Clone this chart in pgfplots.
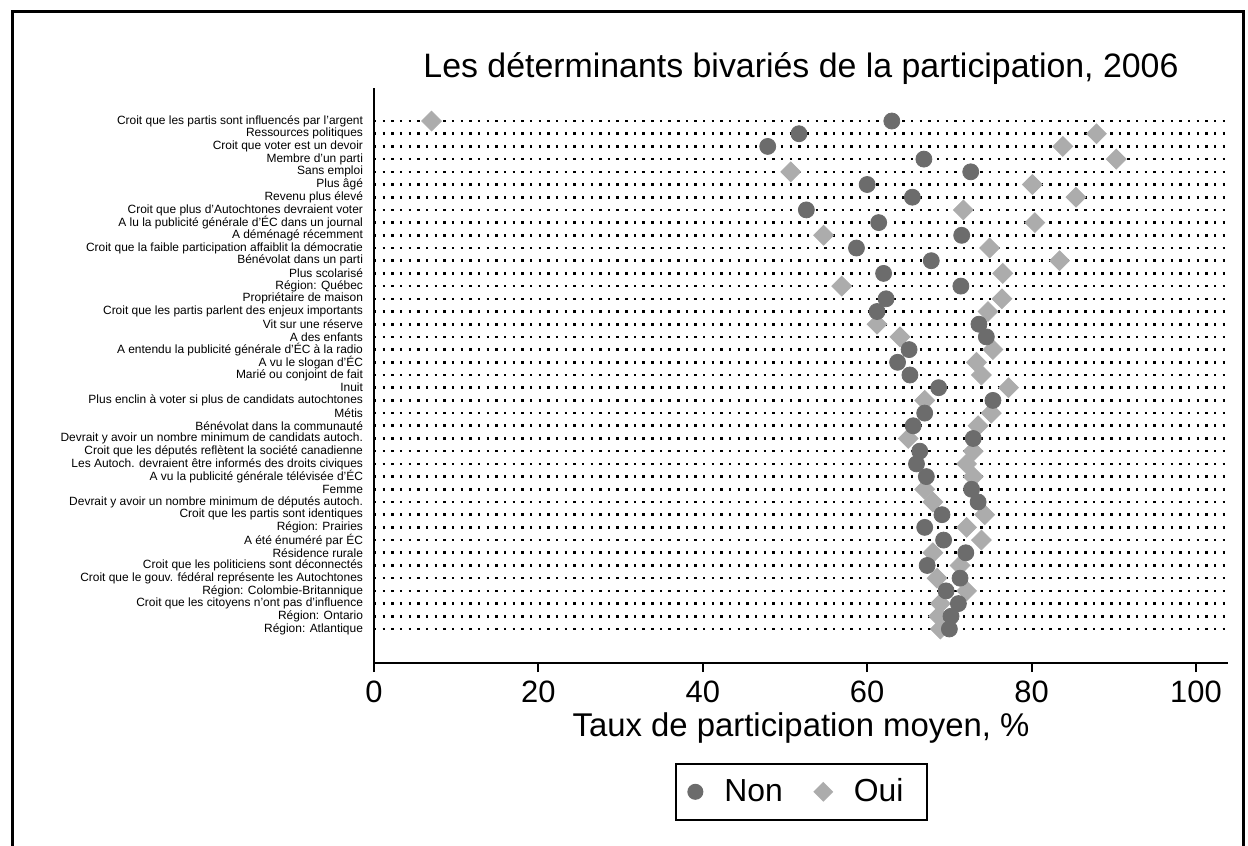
\documentclass[border=0pt]{standalone}
\usepackage{fontspec}
\setmainfont{Liberation Sans}
\usepackage{pgfplots}
\usepackage{pgfplotstable}
\pgfplotsset{compat=1.18}
\definecolor{nongray}{RGB}{108,108,108}
\definecolor{ouigray}{RGB}{172,172,172}

% i = row from the top; non / oui = mean turnout (%)
\pgfplotstableread{
i non oui
1 63.0 7.0
2 51.7 87.9
3 47.9 83.8
4 66.9 90.3
5 72.6 50.7
6 60.0 80.1
7 65.5 85.4
8 52.6 71.7
9 61.4 80.4
10 71.5 54.7
11 58.7 74.9
12 67.8 83.4
13 62.0 76.5
14 71.4 56.9
15 62.3 76.4
16 61.2 74.7
17 73.6 61.2
18 74.5 64.0
19 65.1 75.3
20 63.7 73.3
21 65.2 73.9
22 68.7 77.2
23 75.3 67.0
24 67.0 75.1
25 65.6 73.5
26 72.9 65.0
27 66.4 72.9
28 66.0 72.1
29 67.2 72.9
30 72.7 67.0
31 73.5 68.0
32 69.1 74.3
33 67.0 72.1
34 69.3 73.9
35 72.0 68.0
36 67.3 71.3
37 71.3 68.5
38 69.6 72.1
39 71.1 68.9
40 70.2 68.7
41 70.0 68.9
}\datatable

\begin{document}
\begin{tikzpicture}
\path[use as bounding box] (0bp,0bp) rectangle (624bp,423bp);
\draw[line width=1.5bp] (6bp,0bp) -- (6bp,417bp) -- (621.5bp,417bp) -- (621.5bp,0bp);
\begin{axis}[
  at={(187bp,91.5bp)}, anchor=south west,
  scale only axis, width=427bp, height=287.5bp,
  xmin=0, xmax=103.9, ymin=-1.6, ymax=43.68, y dir=reverse,
  axis lines*=left, axis line style={-, line width=1bp},
  xtick={0,20,...,100}, tick align=outside, major tick length=4.5bp,
  xtick style={line width=1bp, black},
  ytick={1,...,41}, ytick style={draw=none},
  yticklabels={
    Croit que les partis sont influencés par l'argent,
    Ressources politiques,
    Croit que voter est un devoir,
    Membre d'un parti,
    Sans emploi,
    Plus âgé,
    Revenu plus élevé,
    Croit que plus d'Autochtones devraient voter,
    A lu la publicité générale d'ÉC dans un journal,
    A déménagé récemment,
    Croit que la faible participation affaiblit la démocratie,
    Bénévolat dans un parti,
    Plus scolarisé,
    Région: Québec,
    Propriétaire de maison,
    Croit que les partis parlent des enjeux importants,
    Vit sur une réserve,
    A des enfants,
    A entendu la publicité générale d'ÉC à la radio,
    A vu le slogan d'ÉC,
    Marié ou conjoint de fait,
    Inuit,
    Plus enclin à voter si plus de candidats autochtones,
    Métis,
    Bénévolat dans la communauté,
    Devrait y avoir un nombre minimum de candidats autoch.,
    Croit que les députés reflètent la société canadienne,
    Les Autoch. devraient être informés des droits civiques,
    A vu la publicité générale télévisée d'ÉC,
    Femme,
    Devrait y avoir un nombre minimum de députés autoch.,
    Croit que les partis sont identiques,
    Région: Prairies,
    A été énuméré par ÉC,
    Résidence rurale,
    Croit que les politiciens sont déconnectés,
    Croit que le gouv. fédéral représente les Autochtones,
    Région: Colombie-Britannique,
    Croit que les citoyens n'ont pas d'influence,
    Région: Ontario,
    Région: Atlantique},
  yticklabel style={font=\fontsize{6.0}{6.4}\selectfont, xshift=2.5bp},
  xticklabel style={font=\fontsize{15.5}{17}\selectfont, yshift=-1bp},
  /pgf/number format/assume math mode=true,
  ymajorgrids,
  major grid style={black, line width=1.3bp, dash pattern=on 1.2bp off 3.13bp},
  xlabel={Taux de participation moyen, \%},
  xlabel style={font=\fontsize{16.5}{18}\selectfont, yshift=2bp},
  title={Les déterminants bivariés de la participation, 2006},
  title style={font=\fontsize{17}{20}\selectfont, at={(0.5,1.017)}, anchor=base, yshift=-5.5bp},
  legend columns=2,
  legend style={at={(0.501,-0.224)}, anchor=center, draw=black, line width=1bp,
    font=\fontsize{16}{18}\selectfont, inner xsep=6bp, inner ysep=5.5bp,
    /tikz/every odd column/.append style={column sep=9bp},
    /tikz/every even column/.append style={column sep=14bp}},
]
\addplot[only marks, mark=square*, mark size=3.5bp, color=ouigray,
  mark options={rotate=45, fill=ouigray, draw=ouigray}, forget plot]
  table[x=oui, y=i] {\datatable};
\addplot[only marks, mark=*, mark size=4bp, color=nongray,
  mark options={fill=nongray, draw=nongray}, forget plot]
  table[x=non, y=i] {\datatable};
\addlegendimage{only marks, mark=*, mark size=3.5bp, color=nongray}
\addlegendentry{Non}
\addlegendimage{only marks, mark=square*, mark size=3bp, color=ouigray, mark options={rotate=45}}
\addlegendentry{Oui\hspace*{4bp}}
\end{axis}
\end{tikzpicture}
\end{document}
